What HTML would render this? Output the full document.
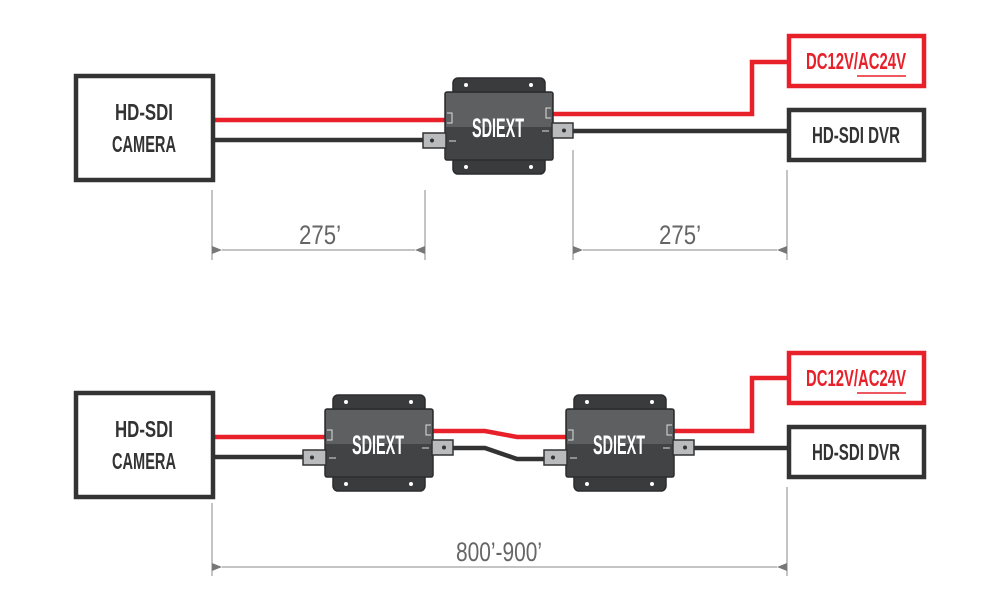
<!DOCTYPE html>
<html><head><style>body{margin:0;background:#fff}svg{display:block}</style></head><body>
<svg width="1000" height="611" viewBox="0 0 1000 611" xmlns="http://www.w3.org/2000/svg" font-family="Liberation Sans, sans-serif">
<defs>
<g id="dev">
  <rect x="453" y="78" width="92" height="96" rx="5" fill="#3a3b3d" stroke="#2b2c2e" stroke-width="1.5"/>
  <rect x="445" y="92" width="108" height="68" rx="2" fill="#424345" stroke="#2b2c2e" stroke-width="1.5"/>
  <rect x="446" y="93" width="106" height="34" fill="#5d5f61"/>
  <circle cx="466" cy="85" r="2" fill="#fff"/><circle cx="531" cy="85" r="2" fill="#fff"/>
  <circle cx="466" cy="167" r="2" fill="#fff"/><circle cx="531" cy="167" r="2" fill="#fff"/>
  <path d="M447 113h5v10h-5" fill="none" stroke="#ddd" stroke-width="1"/>
  <path d="M551 108h-5v10h5" fill="none" stroke="#ddd" stroke-width="1"/>
  <line x1="449" y1="141" x2="456" y2="141" stroke="#ddd"/>
  <line x1="542" y1="131" x2="549" y2="131" stroke="#ddd"/>
  <text x="498" y="137" text-anchor="middle" fill="#fff" font-weight="bold" font-size="27" textLength="52" lengthAdjust="spacingAndGlyphs">SDIEXT</text>
  <rect x="423" y="133" width="23" height="15" fill="#b9bbbd" stroke="#333" stroke-width="1.5"/>
  <circle cx="432" cy="140.5" r="2" fill="#333"/>
  <rect x="552" y="123" width="21" height="15" fill="#b9bbbd" stroke="#333" stroke-width="1.5"/>
  <circle cx="564" cy="130.5" r="2" fill="#333"/>
</g>
<marker id="a" markerWidth="10" markerHeight="8" refX="0" refY="4" orient="auto-start-reverse" markerUnits="userSpaceOnUse"><path d="M0 4L10 0V8Z" fill="#777"/></marker>
</defs>
<g fill="none" stroke-width="4.5">
<path d="M214 120H446" stroke="#e8202a"/>
<path d="M214 140H424" stroke="#333"/>
<path d="M552 114H752V62H788" stroke="#e8202a"/>
<path d="M572 131H787" stroke="#333"/>
<path d="M214 437H326" stroke="#e8202a"/>
<path d="M214 457H304" stroke="#333"/>
<path d="M432 431H485L517 437H567" stroke="#e8202a"/>
<path d="M452 448H485L517 459H547" stroke="#333"/>
<path d="M673 431H752V378H788" stroke="#e8202a"/>
<path d="M693 448H787" stroke="#333"/>
</g>
<use href="#dev"/>
<use href="#dev" transform="translate(-120,317)"/>
<use href="#dev" transform="translate(121,317)"/>
<g fill="#fff" stroke-width="4.5">
<rect x="76" y="76" width="137" height="104" stroke="#333"/>
<rect x="789" y="36" width="135" height="50" stroke="#e8202a"/>
<rect x="789" y="110" width="135" height="50" stroke="#333"/>
<rect x="76" y="393" width="137" height="104" stroke="#333"/>
<rect x="789" y="353" width="135" height="50" stroke="#e8202a"/>
<rect x="789" y="427" width="135" height="50" stroke="#333"/>
</g>
<g font-weight="bold" font-size="23" text-anchor="middle" fill="#333">
<text x="144" y="120" textLength="58" lengthAdjust="spacingAndGlyphs">HD-SDI</text>
<text x="144" y="152" textLength="64" lengthAdjust="spacingAndGlyphs">CAMERA</text>
<text x="856" y="143" textLength="88" lengthAdjust="spacingAndGlyphs">HD-SDI DVR</text>
<text x="856" y="69" fill="#e8202a" textLength="100" lengthAdjust="spacingAndGlyphs">DC12V/AC24V</text>
<text x="144" y="437" textLength="58" lengthAdjust="spacingAndGlyphs">HD-SDI</text>
<text x="144" y="469" textLength="64" lengthAdjust="spacingAndGlyphs">CAMERA</text>
<text x="856" y="460" textLength="88" lengthAdjust="spacingAndGlyphs">HD-SDI DVR</text>
<text x="856" y="386" fill="#e8202a" textLength="100" lengthAdjust="spacingAndGlyphs">DC12V/AC24V</text>
</g>
<line x1="857" y1="76" x2="906" y2="76" stroke="#e8202a" stroke-width="1.5"/>
<line x1="857" y1="393" x2="906" y2="393" stroke="#e8202a" stroke-width="1.5"/>
<g stroke="#888" stroke-width="1">
<line x1="212" y1="190" x2="212" y2="260"/><line x1="425" y1="190" x2="425" y2="260"/>
<line x1="573" y1="150" x2="573" y2="260"/><line x1="787" y1="170" x2="787" y2="260"/>
<line x1="212" y1="503" x2="212" y2="576"/><line x1="787" y1="487" x2="787" y2="576"/>
<line x1="222" y1="250" x2="415" y2="250" marker-start="url(#a)" marker-end="url(#a)"/>
<line x1="583" y1="250" x2="777" y2="250" marker-start="url(#a)" marker-end="url(#a)"/>
<line x1="222" y1="567" x2="777" y2="567" marker-start="url(#a)" marker-end="url(#a)"/>
</g>
<g font-size="27" fill="#666" text-anchor="middle">
<text x="320" y="244" textLength="42" lengthAdjust="spacingAndGlyphs">275’</text>
<text x="680" y="244" textLength="42" lengthAdjust="spacingAndGlyphs">275’</text>
<text x="499" y="561" textLength="86" lengthAdjust="spacingAndGlyphs">800’-900’</text>
</g>
</svg>
</body></html>
